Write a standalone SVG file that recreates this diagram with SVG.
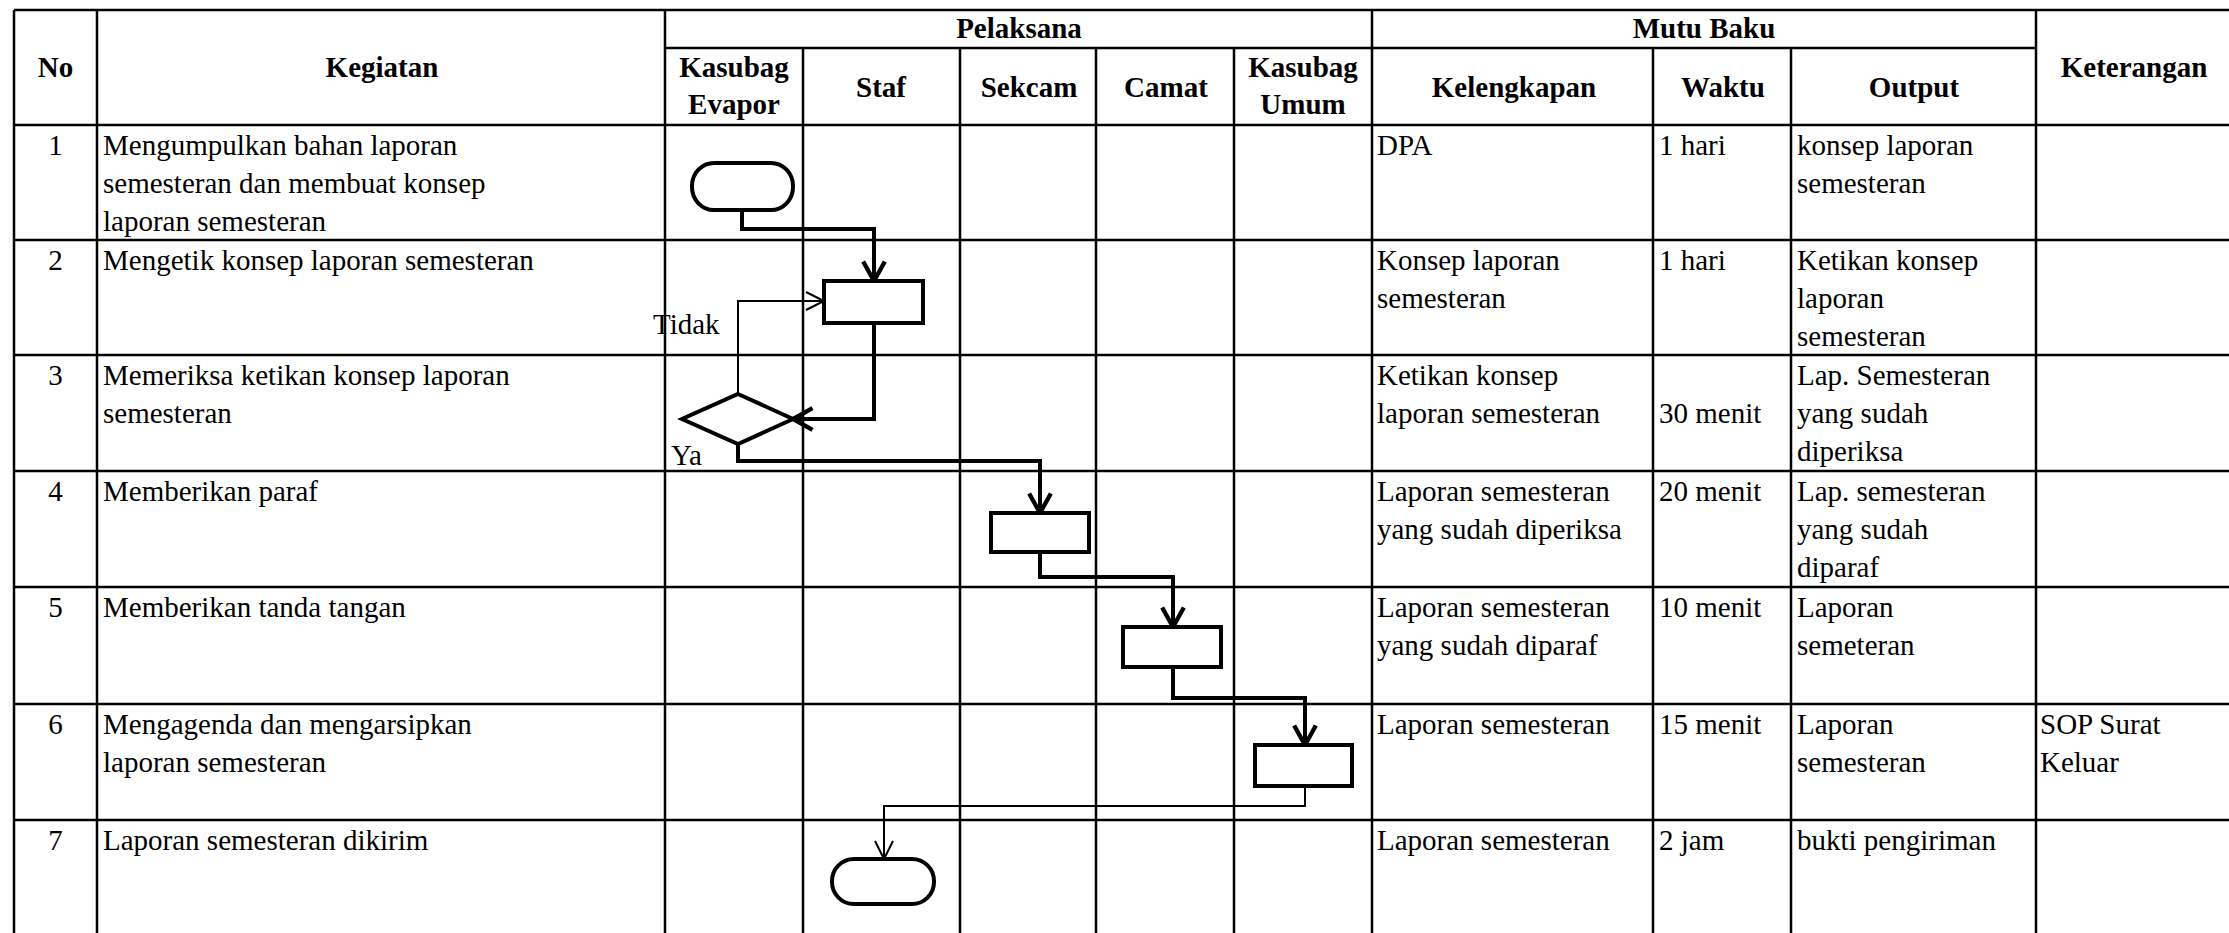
<svg xmlns="http://www.w3.org/2000/svg" width="2229" height="933" viewBox="0 0 2229 933">
<style>
.g{stroke:#000;stroke-width:2.5;fill:none}
.h{font-family:"Liberation Serif","Times New Roman",serif;font-weight:bold;font-size:29px;fill:#000;text-anchor:middle}
.t{font-family:"Liberation Serif","Times New Roman",serif;font-size:29px;fill:#000}
.c{text-anchor:middle}
.shape{fill:#fff;stroke:#000;stroke-width:4}
.thick{fill:none;stroke:#000;stroke-width:4;stroke-linejoin:miter}
.thin{fill:none;stroke:#000;stroke-width:2}
</style>
<defs>
<marker id="ahT" markerUnits="userSpaceOnUse" markerWidth="26" markerHeight="26" viewBox="-2 -2 24 24" refX="18" refY="10" orient="auto">
<path d="M0,0 L18,10 L0,20" fill="none" stroke="#000" stroke-width="4"/>
</marker>
<marker id="ahN" markerUnits="userSpaceOnUse" markerWidth="24" markerHeight="24" viewBox="-2 -2 24 22" refX="18" refY="9" orient="auto">
<path d="M0,0 L18,9 L0,18" fill="none" stroke="#000" stroke-width="2"/>
</marker>
</defs>
<rect width="2229" height="933" fill="#fff"/>
<g id="grid" class="g">
<line x1="14" y1="10" x2="2229" y2="10"/>
<line x1="665" y1="48" x2="2036" y2="48"/>
<line x1="14" y1="125" x2="2229" y2="125"/>
<line x1="14" y1="240" x2="2229" y2="240"/>
<line x1="14" y1="355" x2="2229" y2="355"/>
<line x1="14" y1="471" x2="2229" y2="471"/>
<line x1="14" y1="587" x2="2229" y2="587"/>
<line x1="14" y1="704" x2="2229" y2="704"/>
<line x1="14" y1="820" x2="2229" y2="820"/>
<line x1="14" y1="10" x2="14" y2="933"/>
<line x1="97" y1="10" x2="97" y2="933"/>
<line x1="665" y1="10" x2="665" y2="933"/>
<line x1="803" y1="48" x2="803" y2="933"/>
<line x1="960" y1="48" x2="960" y2="933"/>
<line x1="1096" y1="48" x2="1096" y2="933"/>
<line x1="1234" y1="48" x2="1234" y2="933"/>
<line x1="1372" y1="10" x2="1372" y2="933"/>
<line x1="1653" y1="48" x2="1653" y2="933"/>
<line x1="1791" y1="48" x2="1791" y2="933"/>
<line x1="2036" y1="10" x2="2036" y2="933"/>
</g>
<g id="header">
<text class="h" x="55.5" y="77">No</text>
<text class="h" x="382" y="77">Kegiatan</text>
<text class="h" x="1019" y="38">Pelaksana</text>
<text class="h" x="1704" y="38">Mutu Baku</text>
<text class="h" x="2134" y="77">Keterangan</text>
<text class="h" x="734" y="77">Kasubag</text>
<text class="h" x="734" y="114">Evapor</text>
<text class="h" x="881" y="97">Staf</text>
<text class="h" x="1029" y="97">Sekcam</text>
<text class="h" x="1166" y="97">Camat</text>
<text class="h" x="1303" y="77">Kasubag</text>
<text class="h" x="1303" y="114">Umum</text>
<text class="h" x="1514" y="97">Kelengkapan</text>
<text class="h" x="1723" y="97">Waktu</text>
<text class="h" x="1914" y="97">Output</text>
</g>
<g id="rows" class="t">
<text class="c" x="55.5" y="155">1</text>
<text x="103" y="155">Mengumpulkan bahan laporan</text>
<text x="103" y="193">semesteran dan membuat konsep</text>
<text x="103" y="231">laporan semesteran</text>
<text x="1377" y="155">DPA</text>
<text x="1659" y="155">1 hari</text>
<text x="1797" y="155">konsep laporan</text>
<text x="1797" y="193">semesteran</text>

<text class="c" x="55.5" y="270">2</text>
<text x="103" y="270">Mengetik konsep laporan semesteran</text>
<text x="1377" y="270">Konsep laporan</text>
<text x="1377" y="308">semesteran</text>
<text x="1659" y="270">1 hari</text>
<text x="1797" y="270">Ketikan konsep</text>
<text x="1797" y="308">laporan</text>
<text x="1797" y="346">semesteran</text>

<text class="c" x="55.5" y="385">3</text>
<text x="103" y="385">Memeriksa ketikan konsep laporan</text>
<text x="103" y="423">semesteran</text>
<text x="1377" y="385">Ketikan konsep</text>
<text x="1377" y="423">laporan semesteran</text>
<text x="1659" y="423">30 menit</text>
<text x="1797" y="385">Lap. Semesteran</text>
<text x="1797" y="423">yang sudah</text>
<text x="1797" y="461">diperiksa</text>

<text class="c" x="55.5" y="501">4</text>
<text x="103" y="501">Memberikan paraf</text>
<text x="1377" y="501">Laporan semesteran</text>
<text x="1377" y="539">yang sudah diperiksa</text>
<text x="1659" y="501">20 menit</text>
<text x="1797" y="501">Lap. semesteran</text>
<text x="1797" y="539">yang sudah</text>
<text x="1797" y="577">diparaf</text>

<text class="c" x="55.5" y="617">5</text>
<text x="103" y="617">Memberikan tanda tangan</text>
<text x="1377" y="617">Laporan semesteran</text>
<text x="1377" y="655">yang sudah diparaf</text>
<text x="1659" y="617">10 menit</text>
<text x="1797" y="617">Laporan</text>
<text x="1797" y="655">semeteran</text>

<text class="c" x="55.5" y="734">6</text>
<text x="103" y="734">Mengagenda dan mengarsipkan</text>
<text x="103" y="772">laporan semesteran</text>
<text x="1377" y="734">Laporan semesteran</text>
<text x="1659" y="734">15 menit</text>
<text x="1797" y="734">Laporan</text>
<text x="1797" y="772">semesteran</text>
<text x="2040" y="734">SOP Surat</text>
<text x="2040" y="772">Keluar</text>

<text class="c" x="55.5" y="850">7</text>
<text x="103" y="850">Laporan semesteran dikirim</text>
<text x="1377" y="850">Laporan semesteran</text>
<text x="1659" y="850">2 jam</text>
<text x="1797" y="850">bukti pengiriman</text>
</g>
<g id="connectors">
<polyline class="thick" points="742,210 742,229 874,229 874,281" marker-end="url(#ahT)"/>
<polyline class="thick" points="874,323 874,419 793,419" marker-end="url(#ahT)"/>
<polyline class="thin" points="738,394 738,301 824,301" marker-end="url(#ahN)"/>
<polyline class="thick" points="738,443 738,461 1040,461 1040,513" marker-end="url(#ahT)"/>
<polyline class="thick" points="1040,552 1040,577 1173,577 1173,627" marker-end="url(#ahT)"/>
<polyline class="thick" points="1173,667 1173,698 1305,698 1305,745" marker-end="url(#ahT)"/>
<polyline class="thin" points="1305,786 1305,806 884,806 884,859" marker-end="url(#ahN)"/>
</g>
<g id="start"><rect class="shape" x="692" y="163" width="101" height="47" rx="22" ry="23" stroke-width="3.5"/></g>
<g id="ketik"><rect class="shape" x="824" y="281" width="99" height="42"/></g>
<g id="periksa"><polygon class="shape" points="738,394 793,419 738,444 682,419" stroke-width="5"/></g>
<g id="paraf"><rect class="shape" x="991" y="513" width="98" height="39"/></g>
<g id="ttd"><rect class="shape" x="1123" y="627" width="98" height="40"/></g>
<g id="agenda"><rect class="shape" x="1255" y="745" width="97" height="41"/></g>
<g id="end"><rect class="shape" x="832" y="859" width="102" height="45" rx="22" ry="22" stroke-width="3.5"/></g>
<g id="labels" class="t">
<text x="653" y="334">Tidak</text>
<text x="671" y="465">Ya</text>
</g>
</svg>
